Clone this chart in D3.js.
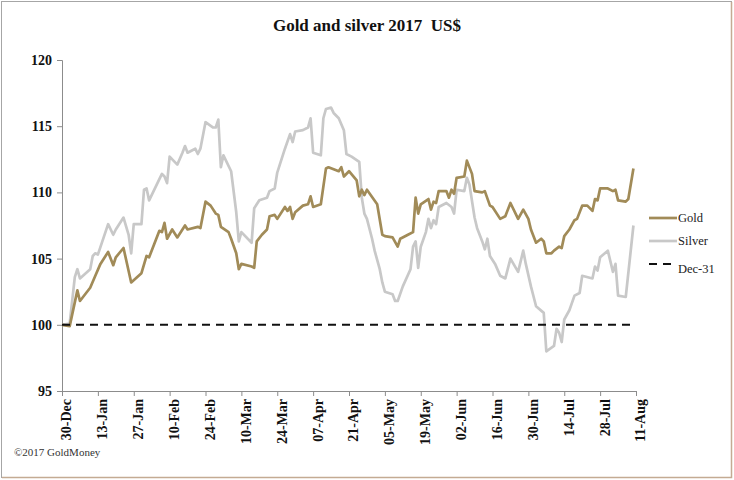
<!DOCTYPE html>
<html>
<head>
<meta charset="utf-8">
<title>Gold and silver 2017 US$</title>
<script src="https://d3js.org/d3.v7.min.js"></script>
<style>
    body { margin: 0; background: white; }
    text { font-family: "Liberation Serif", serif; }
</style>
</head>
<body>
<svg id="chart" width="734" height="480"></svg>
<script>

    // values, indexed to 100 on 30-Dec
    var gold = [
        ["2016-12-30", 100.0], ["2017-01-02", 99.9], ["2017-01-05", 102.6], ["2017-01-06", 101.8],
        ["2017-01-10", 102.8], ["2017-01-12", 103.7], ["2017-01-14", 104.6], ["2017-01-17", 105.5],
        ["2017-01-19", 104.5], ["2017-01-20", 105.1], ["2017-01-23", 105.8], ["2017-01-26", 103.2],
        ["2017-01-30", 103.9], ["2017-02-01", 105.2], ["2017-02-02", 105.1], ["2017-02-04", 106.1],
        ["2017-02-06", 107.1], ["2017-02-07", 107.0], ["2017-02-08", 107.7], ["2017-02-09", 106.5],
        ["2017-02-11", 107.2], ["2017-02-13", 106.6], ["2017-02-15", 107.2], ["2017-02-16", 107.5],
        ["2017-02-17", 107.2], ["2017-02-21", 107.4], ["2017-02-22", 107.3], ["2017-02-24", 109.3],
        ["2017-02-26", 109.0], ["2017-02-28", 108.4], ["2017-03-01", 108.3], ["2017-03-02", 107.4],
        ["2017-03-05", 107.0], ["2017-03-06", 106.5], ["2017-03-08", 105.4], ["2017-03-09", 104.2],
        ["2017-03-10", 104.6], ["2017-03-14", 104.4], ["2017-03-15", 104.3], ["2017-03-16", 106.3],
        ["2017-03-18", 106.8], ["2017-03-20", 107.2], ["2017-03-21", 108.2], ["2017-03-23", 108.3],
        ["2017-03-24", 108.0], ["2017-03-27", 108.9], ["2017-03-28", 108.6], ["2017-03-29", 108.9],
        ["2017-03-30", 108.0], ["2017-03-31", 108.5], ["2017-04-03", 109.0], ["2017-04-05", 109.1],
        ["2017-04-06", 109.7], ["2017-04-07", 108.9], ["2017-04-10", 109.1], ["2017-04-12", 111.8],
        ["2017-04-13", 111.9], ["2017-04-17", 111.6], ["2017-04-18", 111.9], ["2017-04-19", 111.2],
        ["2017-04-21", 111.6], ["2017-04-24", 110.9], ["2017-04-25", 109.7], ["2017-04-26", 110.2],
        ["2017-04-27", 109.8], ["2017-04-28", 110.2], ["2017-05-02", 109.1], ["2017-05-04", 106.8],
        ["2017-05-05", 106.7], ["2017-05-08", 106.6], ["2017-05-10", 105.9], ["2017-05-11", 106.5],
        ["2017-05-14", 106.8], ["2017-05-16", 107.0], ["2017-05-17", 109.6], ["2017-05-18", 108.4],
        ["2017-05-19", 109.1], ["2017-05-22", 109.5], ["2017-05-23", 108.7], ["2017-05-24", 109.3],
        ["2017-05-25", 109.2], ["2017-05-26", 110.1], ["2017-05-29", 110.1], ["2017-05-30", 109.6],
        ["2017-05-31", 110.2], ["2017-06-01", 109.9], ["2017-06-02", 111.1], ["2017-06-05", 111.2],
        ["2017-06-06", 112.4], ["2017-06-08", 111.4], ["2017-06-09", 110.1], ["2017-06-12", 110.0],
        ["2017-06-13", 110.1], ["2017-06-15", 109.0], ["2017-06-16", 108.9], ["2017-06-19", 108.0],
        ["2017-06-21", 108.2], ["2017-06-23", 109.2], ["2017-06-26", 108.0], ["2017-06-28", 108.7],
        ["2017-06-30", 108.0], ["2017-07-01", 107.2], ["2017-07-03", 106.2], ["2017-07-05", 106.5],
        ["2017-07-06", 106.3], ["2017-07-07", 105.4], ["2017-07-09", 105.4], ["2017-07-10", 105.6],
        ["2017-07-12", 105.9], ["2017-07-13", 105.8], ["2017-07-14", 106.7], ["2017-07-16", 107.2],
        ["2017-07-18", 107.9], ["2017-07-19", 108.0], ["2017-07-21", 109.0], ["2017-07-23", 109.0],
        ["2017-07-25", 108.6], ["2017-07-26", 109.5], ["2017-07-27", 109.4], ["2017-07-28", 110.3],
        ["2017-07-31", 110.3], ["2017-08-02", 110.1], ["2017-08-03", 110.2], ["2017-08-04", 109.4],
        ["2017-08-07", 109.3], ["2017-08-08", 109.5], ["2017-08-10", 111.8]
    ];

    var silver = [
        ["2016-12-30", 100.0], ["2017-01-02", 100.1], ["2017-01-04", 103.6], ["2017-01-05", 104.2],
        ["2017-01-06", 103.5], ["2017-01-10", 104.2], ["2017-01-11", 105.2], ["2017-01-12", 105.4],
        ["2017-01-13", 105.3], ["2017-01-17", 107.6], ["2017-01-19", 106.8], ["2017-01-20", 107.2],
        ["2017-01-23", 108.1], ["2017-01-25", 106.8], ["2017-01-26", 105.4], ["2017-01-27", 107.6],
        ["2017-01-30", 107.6], ["2017-01-31", 110.2], ["2017-02-01", 110.3], ["2017-02-02", 109.4],
        ["2017-02-06", 111.0], ["2017-02-07", 111.4], ["2017-02-08", 111.2], ["2017-02-09", 110.7],
        ["2017-02-10", 112.7], ["2017-02-13", 112.1], ["2017-02-15", 113.0], ["2017-02-16", 113.5],
        ["2017-02-17", 113.0], ["2017-02-20", 113.3], ["2017-02-21", 112.9], ["2017-02-22", 113.3],
        ["2017-02-24", 115.3], ["2017-02-27", 114.9], ["2017-02-28", 114.9], ["2017-03-01", 115.5],
        ["2017-03-02", 111.9], ["2017-03-03", 112.8], ["2017-03-06", 111.6], ["2017-03-08", 108.5],
        ["2017-03-09", 106.3], ["2017-03-10", 107.0], ["2017-03-14", 106.2], ["2017-03-15", 108.8],
        ["2017-03-17", 109.4], ["2017-03-20", 109.6], ["2017-03-21", 110.1], ["2017-03-23", 110.3],
        ["2017-03-24", 111.5], ["2017-03-27", 113.3], ["2017-03-29", 114.4], ["2017-03-30", 113.8],
        ["2017-03-31", 114.6], ["2017-04-03", 114.7], ["2017-04-05", 114.9], ["2017-04-06", 115.6],
        ["2017-04-07", 113.0], ["2017-04-10", 112.8], ["2017-04-11", 115.6], ["2017-04-12", 116.3],
        ["2017-04-14", 116.4], ["2017-04-15", 116.0], ["2017-04-17", 115.6], ["2017-04-19", 114.7],
        ["2017-04-20", 112.9], ["2017-04-22", 112.7], ["2017-04-25", 112.3], ["2017-04-26", 109.6],
        ["2017-04-27", 108.4], ["2017-04-28", 108.0], ["2017-04-30", 106.5], ["2017-05-01", 105.6],
        ["2017-05-03", 104.2], ["2017-05-04", 103.2], ["2017-05-05", 102.5], ["2017-05-08", 102.3],
        ["2017-05-09", 101.8], ["2017-05-10", 101.8], ["2017-05-12", 102.9], ["2017-05-15", 104.2],
        ["2017-05-16", 105.9], ["2017-05-17", 106.3], ["2017-05-18", 104.3], ["2017-05-19", 105.9],
        ["2017-05-21", 107.0], ["2017-05-22", 108.0], ["2017-05-23", 107.3], ["2017-05-24", 107.9],
        ["2017-05-25", 107.6], ["2017-05-26", 108.9], ["2017-05-29", 109.2], ["2017-05-31", 108.9],
        ["2017-06-01", 108.4], ["2017-06-02", 110.2], ["2017-06-05", 110.1], ["2017-06-06", 111.1],
        ["2017-06-07", 110.6], ["2017-06-09", 108.1], ["2017-06-10", 107.3], ["2017-06-12", 106.3],
        ["2017-06-13", 105.7], ["2017-06-14", 106.5], ["2017-06-15", 105.2], ["2017-06-17", 104.6],
        ["2017-06-19", 103.7], ["2017-06-21", 103.5], ["2017-06-23", 105.0], ["2017-06-26", 104.0],
        ["2017-06-28", 105.6], ["2017-06-29", 104.6], ["2017-07-01", 102.9], ["2017-07-03", 101.4],
        ["2017-07-06", 100.9], ["2017-07-07", 98.0], ["2017-07-10", 98.4], ["2017-07-11", 99.7],
        ["2017-07-12", 99.4], ["2017-07-13", 98.7], ["2017-07-14", 100.4], ["2017-07-16", 101.1],
        ["2017-07-18", 102.2], ["2017-07-20", 102.4], ["2017-07-21", 103.7], ["2017-07-25", 103.5],
        ["2017-07-26", 104.4], ["2017-07-27", 104.1], ["2017-07-28", 105.1], ["2017-07-31", 105.6],
        ["2017-08-02", 104.0], ["2017-08-03", 104.6], ["2017-08-04", 102.2], ["2017-08-07", 102.1],
        ["2017-08-10", 107.5]
    ];

    var baseline = [["2016-12-30", 100], ["2017-08-10", 100]];

    var tickLabels = ["30-Dec-2016", "13-Jan-2017", "27-Jan-2017", "10-Feb-2017", "24-Feb-2017",
        "10-Mar-2017", "24-Mar-2017", "07-Apr-2017", "21-Apr-2017", "05-May-2017", "19-May-2017",
        "02-Jun-2017", "16-Jun-2017", "30-Jun-2017", "14-Jul-2017", "28-Jul-2017", "11-Aug-2017"];
    var yTicks = [95, 100, 105, 110, 115, 120];
    var seriesNames = ["Gold", "Silver", "Dec-31"];

    var svg = d3.select("#chart");
    var parseDay = d3.timeParse("%Y-%m-%d");
    var parseTick = d3.timeParse("%d-%b-%Y");
    var tickDates = tickLabels.map(parseTick);

    // outer frame
    svg.append("rect")
            .attr("x", 1.5).attr("y", 1.5)
            .attr("width", 730).attr("height", 476)
            .attr("fill", "white")
            .attr("stroke", "#a6a6a6")
            .attr("stroke-width", 1);
    svg.append("path")
            .attr("d", "M 731.5,2 L 731.5,477.5 2,477.5")
            .attr("fill", "none")
            .attr("stroke", "#c4ab93")
            .attr("stroke-width", 1.5);

    svg.append("text")
            .attr("x", 367)
            .attr("y", 31)
            .attr("text-anchor", "middle")
            .attr("font-size", "17px")
            .attr("font-weight", "bold")
            .attr("fill", "#111")
            .attr("xml:space", "preserve")
            .text("Gold and silver 2017  US$");

    var x = d3.scaleTime()
            .domain([tickDates[0], tickDates[tickDates.length - 1]])
            .range([62, 636]);
    var y = d3.scaleLinear()
            .domain([95, 120])
            .range([391, 60]);

    // y axis
    var yAxis = svg.append("g")
            .attr("transform", "translate(62,0)")
            .call(d3.axisLeft(y).tickValues(yTicks).tickSize(5).tickPadding(5));
    yAxis.select(".domain").attr("stroke", "#8c8c8c");
    yAxis.selectAll(".tick line").attr("stroke", "#8c8c8c");
    yAxis.selectAll(".tick text")
            .attr("font-family", "Liberation Serif")
            .attr("font-size", "14px")
            .attr("font-weight", "bold")
            .attr("fill", "#111");

    // x axis
    var xAxis = svg.append("g")
            .attr("transform", "translate(0,391)")
            .call(d3.axisBottom(x).tickValues(tickDates).tickSize(5).tickFormat(d3.timeFormat("%d-%b")));
    xAxis.select(".domain").attr("stroke", "#8c8c8c");
    xAxis.selectAll(".tick line").attr("stroke", "#8c8c8c");
    xAxis.selectAll(".tick text")
            .attr("font-family", "Liberation Sans")
            .attr("font-size", "14px")
            .attr("font-weight", "bold")
            .attr("fill", "#111")
            .attr("text-anchor", "end")
            .attr("transform", "translate(4,8) rotate(-90)")
            .attr("x", 0)
            .attr("y", 0)
            .attr("dy", "0.35em");

    var line = d3.line()
            .x(function (d) { return x(parseDay(d[0])); })
            .y(function (d) { return y(d[1]); });

    svg.append("path")
            .datum(silver)
            .attr("d", line)
            .attr("fill", "none")
            .attr("stroke", "#c8c8c8")
            .attr("stroke-width", 2.7)
            .attr("stroke-linejoin", "round");

    svg.append("path")
            .datum(gold)
            .attr("d", line)
            .attr("fill", "none")
            .attr("stroke", "#a18b58")
            .attr("stroke-width", 2.7)
            .attr("stroke-linejoin", "round");

    svg.append("path")
            .datum(baseline)
            .attr("d", line)
            .attr("fill", "none")
            .attr("stroke", "#111")
            .attr("stroke-width", 2)
            .attr("stroke-dasharray", "8,6");

    // legend
    var legendStyles = [
        {color: "#a18b58", width: 2.7, dash: null, lineY: 218, textY: 222},
        {color: "#c8c8c8", width: 2.7, dash: null, lineY: 241, textY: 245},
        {color: "#111", width: 2, dash: "8,6", lineY: 264, textY: 273}
    ];
    seriesNames.forEach(function (name, i) {
        var s = legendStyles[i];
        svg.append("line")
                .attr("x1", 649).attr("x2", 677)
                .attr("y1", s.lineY).attr("y2", s.lineY)
                .attr("stroke", s.color)
                .attr("stroke-width", s.width)
                .attr("stroke-dasharray", s.dash);
        svg.append("text")
                .attr("x", 678)
                .attr("y", s.textY)
                .attr("font-size", "12.5px")
                .attr("fill", "#222")
                .text(name);
    });

    svg.append("text")
            .attr("x", 14)
            .attr("y", 456)
            .attr("font-size", "11px")
            .attr("fill", "#333")
            .text("\u00a92017 GoldMoney");
</script>
</body>
</html>
